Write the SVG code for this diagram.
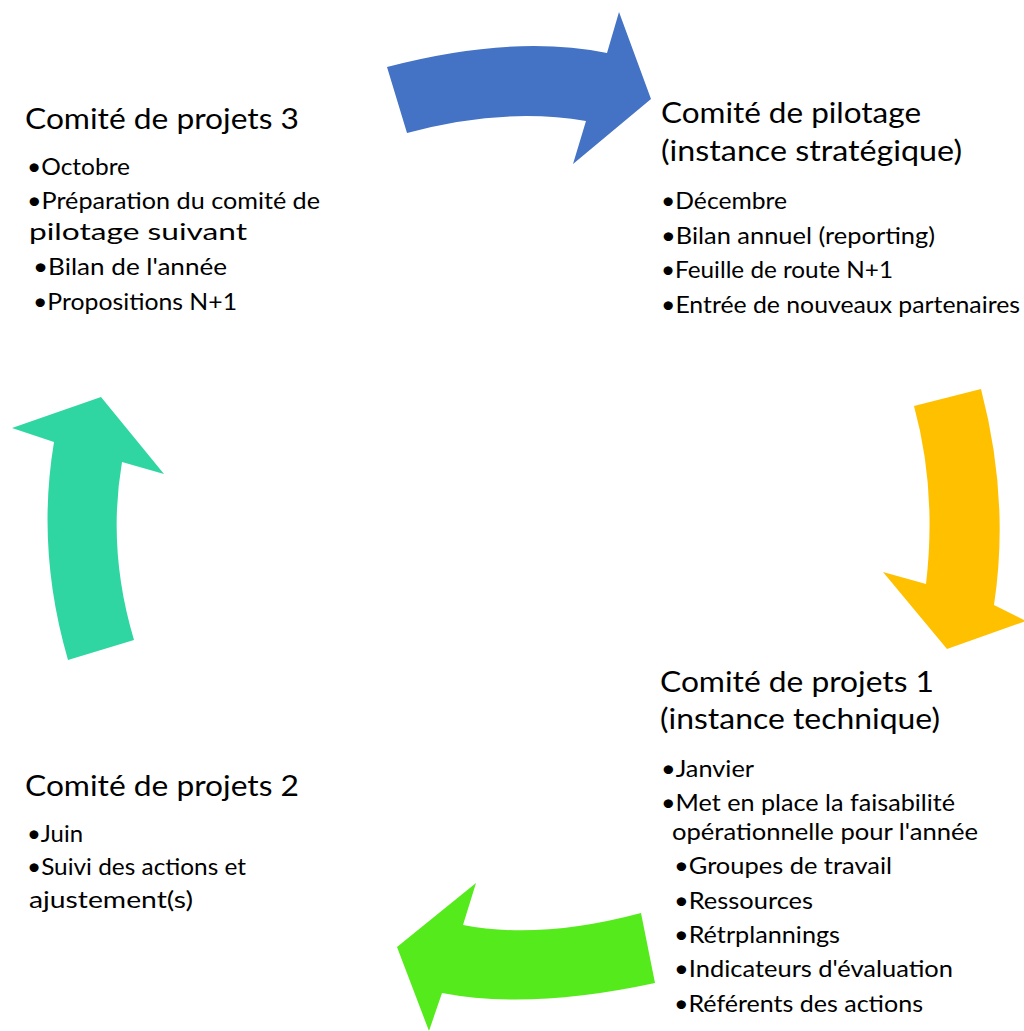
<svg xmlns="http://www.w3.org/2000/svg" width="1024" height="1031" viewBox="0 0 1024 1031">
  <style>
    text { font-family: Lato, "Liberation Sans", sans-serif; fill: #000; }
    .title { font-size: 28px; }
    .item { font-size: 23px; }
  </style>
  <rect width="1024" height="1031" fill="#fff"/>

  <!-- curved cycle arrows -->
  <g id="connectors">
    <path id="arrow-blue" fill="#4472C4" d="M387,67 Q513,34 607,53 L619,12 L651,99 L573,164 L586,121 Q503,107 407,133 Z"/>
    <path id="arrow-yellow" fill="#FFC000" d="M914,406 L981,389 Q1010,500 994,605 L1026,621 L947,649 L883,572 L926,584 Q937,490 914,406 Z"/>
    <path id="arrow-green" fill="#55EA1B" d="M641,913 Q540,940 463,925 L476,883 L397,947 L429,1031 L442,993 Q530,1010 655,983 Z"/>
    <path id="arrow-teal" fill="#30D6A1" d="M68,660 L134,640 Q107,550 122,462 L164,474 L101,397 L12,428 L54,442 Q36,550 68,660 Z"/>
  </g>

  <g id="node-comite-projets-3">
    <text class="title" x="25" y="129" textLength="274" lengthAdjust="spacingAndGlyphs">Comité de projets 3</text>
    <text class="item" x="27" y="175" textLength="103" lengthAdjust="spacingAndGlyphs">•Octobre</text>
    <text class="item" x="27" y="209" textLength="293" lengthAdjust="spacingAndGlyphs">•Préparation du comité de</text>
    <text class="item" x="29" y="240" textLength="218" lengthAdjust="spacingAndGlyphs">pilotage suivant</text>
    <text class="item" x="33" y="275" textLength="194" lengthAdjust="spacingAndGlyphs">•Bilan de l'année</text>
    <text class="item" x="33" y="310" textLength="204" lengthAdjust="spacingAndGlyphs">•Propositions N+1</text>
  </g>

  <g id="node-comite-pilotage">
    <text class="title" x="661" y="123" textLength="260" lengthAdjust="spacingAndGlyphs">Comité de pilotage</text>
    <text class="title" x="661" y="161" textLength="301" lengthAdjust="spacingAndGlyphs">(instance stratégique)</text>
    <text class="item" x="661" y="209" textLength="126" lengthAdjust="spacingAndGlyphs">•Décembre</text>
    <text class="item" x="661" y="244" textLength="274" lengthAdjust="spacingAndGlyphs">•Bilan annuel (reporting)</text>
    <text class="item" x="661" y="278" textLength="232" lengthAdjust="spacingAndGlyphs">•Feuille de route N+1</text>
    <text class="item" x="661" y="313" textLength="359" lengthAdjust="spacingAndGlyphs">•Entrée de nouveaux partenaires</text>
  </g>

  <g id="node-comite-projets-1">
    <text class="title" x="660" y="692" textLength="274" lengthAdjust="spacingAndGlyphs">Comité de projets 1</text>
    <text class="title" x="660" y="729" textLength="280" lengthAdjust="spacingAndGlyphs">(instance technique)</text>
    <text class="item" x="661" y="777" textLength="93" lengthAdjust="spacingAndGlyphs">•Janvier</text>
    <text class="item" x="661" y="811" textLength="294" lengthAdjust="spacingAndGlyphs">•Met en place la faisabilité</text>
    <text class="item" x="672" y="840" textLength="306" lengthAdjust="spacingAndGlyphs">opérationnelle pour l'année</text>
    <text class="item" x="674" y="874" textLength="218" lengthAdjust="spacingAndGlyphs">•Groupes de travail</text>
    <text class="item" x="674" y="909" textLength="139" lengthAdjust="spacingAndGlyphs">•Ressources</text>
    <text class="item" x="674" y="943" textLength="166" lengthAdjust="spacingAndGlyphs">•Rétrplannings</text>
    <text class="item" x="674" y="977" textLength="279" lengthAdjust="spacingAndGlyphs">•Indicateurs d'évaluation</text>
    <text class="item" x="674" y="1012" textLength="249" lengthAdjust="spacingAndGlyphs">•Référents des actions</text>
  </g>

  <g id="node-comite-projets-2">
    <text class="title" x="25" y="796" textLength="274" lengthAdjust="spacingAndGlyphs">Comité de projets 2</text>
    <text class="item" x="27" y="842" textLength="56" lengthAdjust="spacingAndGlyphs">•Juin</text>
    <text class="item" x="27" y="875" textLength="219" lengthAdjust="spacingAndGlyphs">•Suivi des actions et</text>
    <text class="item" x="29" y="908" textLength="164" lengthAdjust="spacingAndGlyphs">ajustement(s)</text>
  </g>
</svg>
